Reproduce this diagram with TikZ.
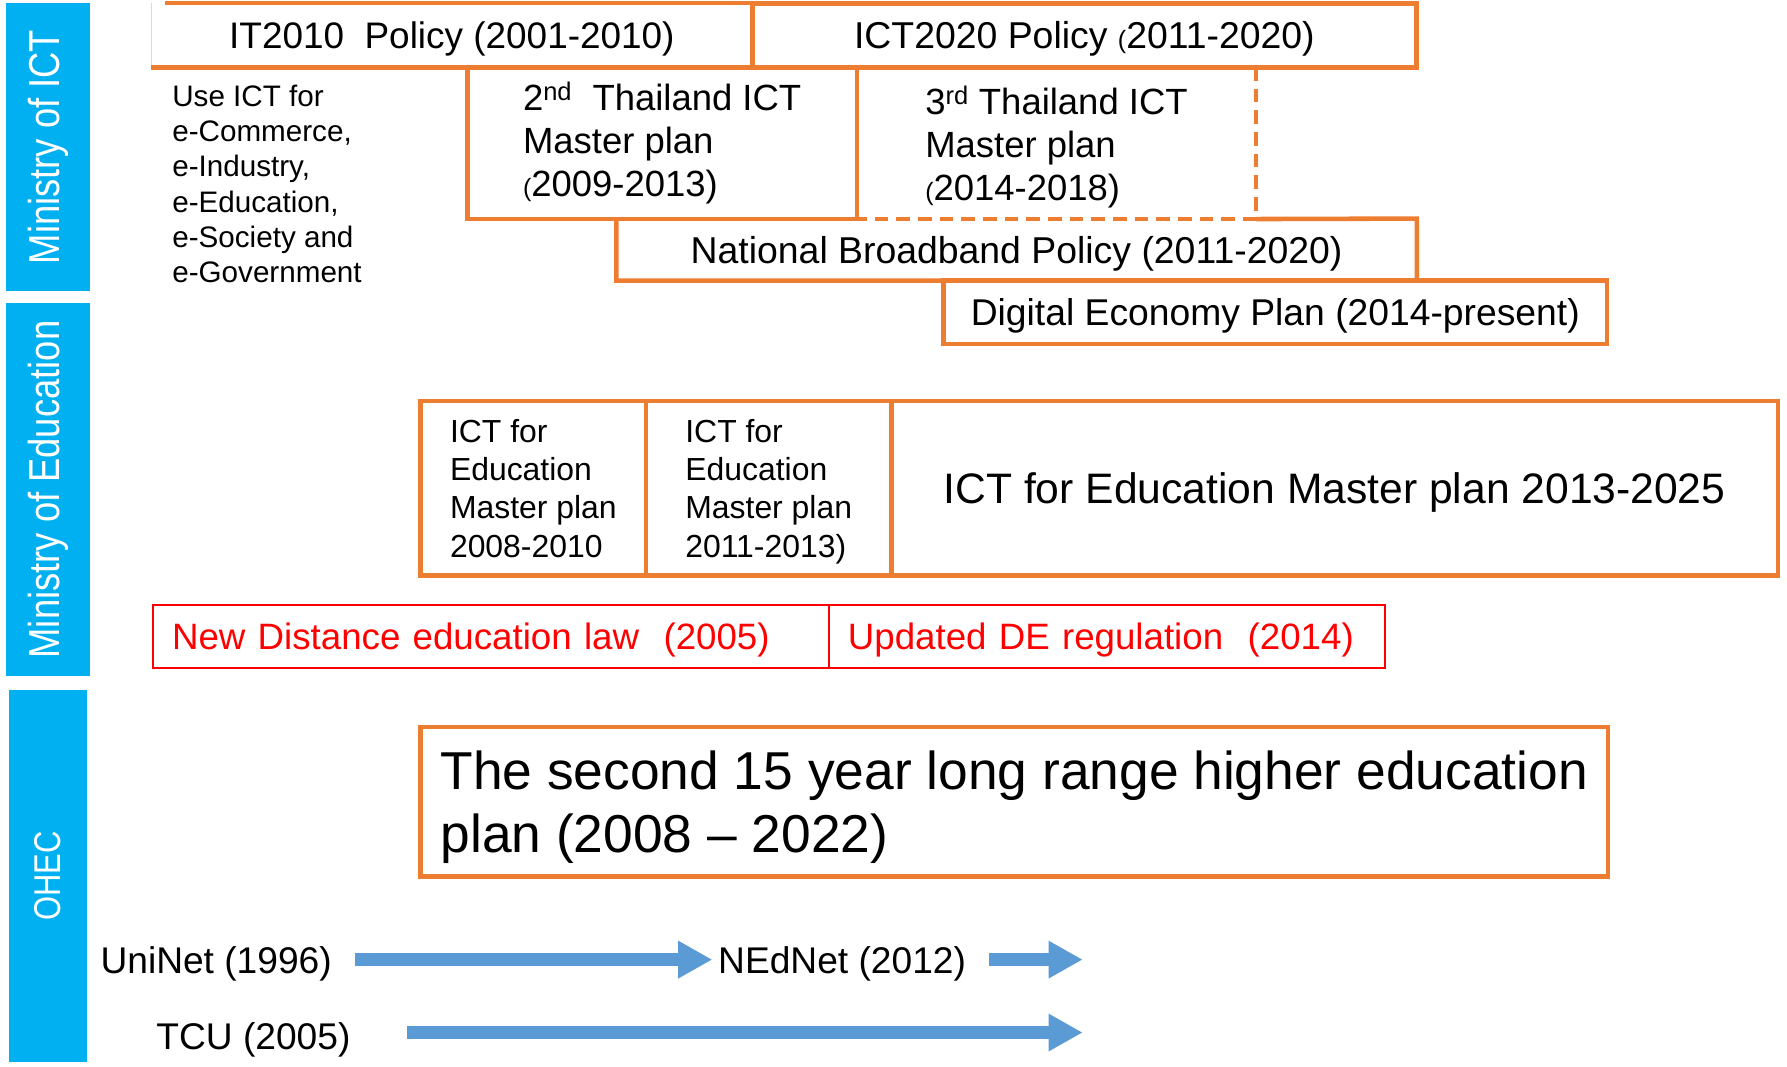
\documentclass[tikz,border=0pt]{standalone}
\usepackage{fontspec}
\usepackage{graphicx}
\setmainfont{Liberation Sans}
\usetikzlibrary{arrows.meta}
\definecolor{bbar}{HTML}{00B0F0}
\definecolor{orng}{HTML}{ED7D31}
\definecolor{arrb}{HTML}{5B9BD5}
\definecolor{redc}{HTML}{FF0000}
\newcommand{\fsz}[2]{\fontsize{#1}{#2}\selectfont}
\newcommand{\sparen}{{\fsz{22}{22}(}}
\begin{document}
\begin{tikzpicture}[x=1pt,y=-1pt,
  bar/.style={fill=bbar, draw=none, text=white, inner sep=0pt, rotate=90},
  oline/.style={draw=orng, line width=4pt},
  obox/.style={draw=orng, line width=4pt, inner sep=0pt, align=left},
  tbox/.style={inner sep=0pt, align=left},
  tdz/.style={text depth=0pt},
  rbox/.style={draw=redc, line width=1.8pt, text=redc, inner sep=0pt, inner xsep=17pt, align=left, font=\fsz{32.2}{38}, text depth=0pt},
  lbl/.style={inner sep=0pt, anchor=west, font=\fsz{32.6}{38}, text depth=0pt},
  barrow/.style={draw=arrb, line width=11pt, -{Triangle[width=31pt,length=30pt]}}
]
\fill[white] (0,0) rectangle (1568,936);
\useasboundingbox (0,0) rectangle (1568,936);

% side bars
\node[bar, minimum width=252pt, minimum height=74pt] (mict) at (42,129) {\fsz{38}{40}\scalebox{0.84}[1]{Ministry of ICT}};
\node[bar, minimum width=327pt, minimum height=74pt] (medu) at (42,429.5) {\fsz{38}{40}\scalebox{0.84}[1]{Ministry of Education}};
\node[bar, minimum width=327pt, minimum height=68pt] (ohec) at (42,768.5) {\fsz{32.7}{34}\scalebox{0.83}[1]{OHEC}};

% ICT policies
\node[tbox, tdz, minimum width=527pt, minimum height=56pt, font=\fsz{32.4}{38}] (it) at (396.5,31) {IT2010\ \ Policy (2001-2010)};
\draw[gray!30, line width=1pt] (it.north west) -- (it.south west);
\draw[oline] ([xshift=12pt]it.north west) -- (it.north east) -- (it.south east) -- (it.south west);
\node[obox, tdz, minimum width=583pt, minimum height=56pt, font=\fsz{32.8}{38}] (ict) at (951.5,31) {ICT2020 Policy \sparen2011-2020)};

\node[obox, minimum width=342pt, minimum height=133pt, font=\fsz{32}{37.5}] (snd) at (581,125.5) {2\textsuperscript{nd}\ \ Thailand ICT\\Master plan\\\sparen2009-2013)};
\node[tbox, tdz, minimum width=350pt, minimum height=133pt, font=\fsz{32}{37.5}] (thd) at (927,125.5) {3\textsuperscript{rd} Thailand ICT\\Master plan\\\sparen2014-2018)};
\draw[oline, dash pattern=on 12pt off 7pt] (thd.north east) -- (thd.south east) -- (thd.south west);

\node[tbox, tdz, minimum width=702pt, minimum height=54pt, font=\fsz{32.8}{38}] (nbp) at (892,219) {National Broadband Policy (2011-2020)};
\draw[oline] (thd.south east) -- (nbp.north east) -- (nbp.south east) -- (nbp.south west) -- (nbp.north west);
\node[obox, tdz, minimum width=582pt, minimum height=56pt, font=\fsz{32.7}{38}] (dep) at (1119,274) {Digital Economy Plan (2014-present)};

\node[lbl, font=\fsz{26}{31}, align=left, text depth=] (use) at (151,161.5) {Use ICT for\\e-Commerce,\\e-Industry,\\e-Education,\\e-Society and\\e-Government};

% Education
\node[obox, tdz, minimum width=198pt, minimum height=153pt, font=\fsz{28}{33.5}] (ed1) at (468,428.5) {ICT for\\Education\\Master plan\\2008-2010};
\node[obox, tdz, minimum width=215pt, minimum height=153pt, font=\fsz{28}{33.5}] (ed2) at (674.5,428.5) {ICT for\\Education\\Master plan\\2011-2013)};
\node[obox, tdz, minimum width=778pt, minimum height=153pt, font=\fsz{37.4}{42}] (ed3) at (1171,428.5) {ICT for Education Master plan 2013-2025};

\node[rbox, text width=559pt, minimum height=55pt] (law) at (430.5,558.5) {New Distance education law\ \ (2005)};
\node[rbox, text width=454pt, minimum height=55pt] (reg) at (971,558.5) {Updated DE regulation\ \ (2014)};

% OHEC
\node[obox, tdz, minimum width=1042pt, minimum height=131pt, font=\fsz{46.8}{55}] (lrp) at (890,703.5) {The second 15 year long range higher education\\plan (2008 \textendash\ 2022)};

\node[lbl] (uni) at (88,842) {UniNet (1996)};
\node[lbl] (ned) at (630,842) {NEdNet (2012)};
\node[lbl] (tcu) at (137,909) {TCU (2005)};
\coordinate (nend) at (950,842);
\coordinate (tend) at (950,906);
\draw[barrow] ([xshift=20pt]uni.east) -- ([xshift=-5pt]ned.west);
\draw[barrow] ([xshift=20pt]ned.east) -- (nend);
\draw[barrow] ([xshift=49pt,yshift=3pt]tcu.east) -- (tend);
\end{tikzpicture}
\end{document}
